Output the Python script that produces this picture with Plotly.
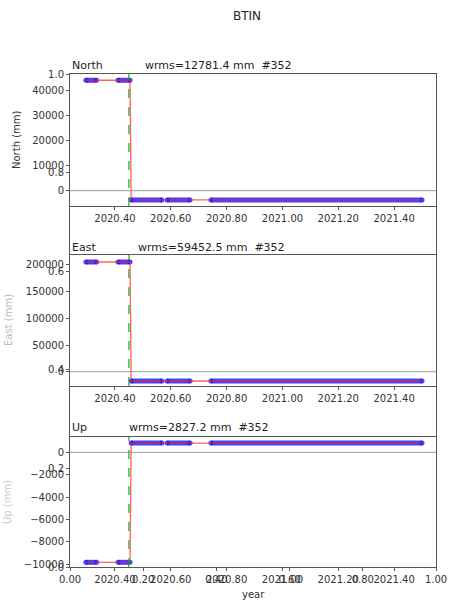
import plotly.graph_objects as go

# ---------------- data ----------------
site = "BTIN"
components = ["North", "East", "Up"]
wrms_mm = [12781.4, 59452.5, 2827.2]
n_obs = 352

# observation segments (decimal year) and their level (mm) per component
seg_start = [2020.296, 2020.411, 2020.458, 2020.587, 2020.744]
seg_end = [2020.334, 2020.454, 2020.568, 2020.669, 2021.500]
north_mm = [44100, 44100, -3700, -3700, -3700]
east_mm = [205600, 205600, -17400, -17400, -17400]
up_mm = [-9840, -9840, 834, 834, 834]
jump_epoch = 2020.450

year_ticks = [2020.40, 2020.60, 2020.80, 2021.00, 2021.20, 2021.40]
year_labels = ["2020.40", "2020.60", "2020.80", "2021.00", "2021.20", "2021.40"]
north_ticks = [0, 10000, 20000, 30000, 40000]
east_ticks = [0, 50000, 100000, 150000, 200000]
up_ticks = [0, -2000, -4000, -6000, -8000, -10000]
frac_ticks = [0.0, 0.2, 0.4, 0.6, 0.8, 1.0]

series = [north_mm, east_mm, up_mm]
y_ticks = [north_ticks, east_ticks, up_ticks]
y_ranges = [[-6100, 46600], [-26800, 218750], [-10260, 1400]]
y_domains = [[0.7323, 1.0], [0.3671, 0.6329], [0.0, 0.2643]]
x_range = [2020.239, 2021.55]

FONT = "DejaVu Sans"
TXT = "#333333"
FRAME = "#555555"

def fmt(v):
    s = f"{v:d}"
    return s.replace("-", "\u2212")

fig = go.Figure()

# background (0..1) axes trace (invisible) so the axes exist
fig.add_trace(go.Scatter(x=[0, 1], y=[0, 1], mode="markers",
                         marker=dict(opacity=0), xaxis="x", yaxis="y",
                         hoverinfo="skip", showlegend=False))

for i, vals in enumerate(series):
    k = i + 2
    bx, by = [], []
    for s, e, v in zip(seg_start, seg_end, vals):
        bx += [s, e, None]
        by += [v, v, None]
    fig.add_trace(go.Scatter(x=bx, y=by, mode="lines+markers",
                             line=dict(color="rgba(20,20,255,0.8)", width=5),
                             marker=dict(color="rgba(20,20,255,0.8)", size=5),
                             xaxis=f"x{k}", yaxis=f"y{k}", showlegend=False))
    rx, ry = [], []
    for s, e, v in zip(seg_start, seg_end, vals):
        rx += [s, e]
        ry += [v, v]
    fig.add_trace(go.Scatter(x=rx, y=ry, mode="lines",
                             line=dict(color="rgba(255,30,30,0.7)", width=1.3),
                             xaxis=f"x{k}", yaxis=f"y{k}", showlegend=False))
    # zero line
    fig.add_shape(type="line", xref=f"x{k} domain", yref=f"y{k}",
                  x0=0, x1=1, y0=0, y1=0,
                  line=dict(color="#999999", width=1))
    # jump marker
    fig.add_shape(type="line", xref=f"x{k}", yref=f"y{k} domain",
                  x0=jump_epoch, x1=jump_epoch, y0=0, y1=1, layer="above",
                  line=dict(color="rgb(30,170,30)", width=1.2, dash="dash"))

tickfont = dict(family=FONT, size=10, color=TXT)
axis_common = dict(showline=True, mirror=True, linecolor=FRAME, linewidth=1,
                   ticks="outside", ticklen=3, tickcolor=FRAME,
                   showgrid=False, zeroline=False, tickfont=tickfont)

layout = dict(
    width=449, height=601,
    margin=dict(l=70, r=13, t=74, b=34, autoexpand=False),
    paper_bgcolor="white", plot_bgcolor="white",
    showlegend=False,
    xaxis=dict(domain=[0, 1], range=[0, 1], anchor="y",
               tickvals=frac_ticks, ticktext=[f"{v:.2f}" for v in frac_ticks],
               **axis_common),
    yaxis=dict(domain=[0, 1], range=[0, 1], anchor="x",
               tickvals=frac_ticks, ticktext=[f"{v:.1f}" for v in frac_ticks],
               **axis_common),
)
for i in range(3):
    k = i + 2
    layout[f"xaxis{k}"] = dict(domain=[0, 1], range=x_range, anchor=f"y{k}",
                               tickvals=year_ticks, ticktext=year_labels,
                               **axis_common)
    layout[f"yaxis{k}"] = dict(domain=y_domains[i], range=y_ranges[i],
                               anchor=f"x{k}", tickvals=y_ticks[i],
                               ticktext=[fmt(v) for v in y_ticks[i]],
                               **axis_common)
fig.update_layout(**layout)

def px_x(p):
    return (p - 70) / 366.0

def px_y(p):
    return (567 - p) / 493.0

ann = []
ann.append(dict(text=site, x=px_x(247), y=px_y(16), xref="paper", yref="paper",
                showarrow=False, xanchor="center", yanchor="middle",
                font=dict(family=FONT, size=12, color="#222222")))
title_y = [66, 247, 427]
wrms_x = [143, 136, 127]
for i, comp in enumerate(components):
    ann.append(dict(text=comp, x=px_x(70), y=px_y(title_y[i]), xref="paper",
                    yref="paper", showarrow=False, xanchor="left",
                    yanchor="middle", font=dict(family=FONT, size=11, color="#222222")))
    ann.append(dict(text=f"wrms={wrms_mm[i]:.1f} mm  #{n_obs}", x=px_x(wrms_x[i]),
                    y=px_y(title_y[i]), xref="paper", yref="paper",
                    showarrow=False, xanchor="left", yanchor="middle",
                    font=dict(family=FONT, size=11, color="#222222")))
ann.append(dict(text="year", x=px_x(253), y=px_y(594), xref="paper", yref="paper",
                showarrow=False, xanchor="center", yanchor="middle",
                font=dict(family=FONT, size=10, color=TXT)))
ann.append(dict(text="North (mm)", x=px_x(16), y=px_y(140), xref="paper",
                yref="paper", showarrow=False, textangle=-90,
                xanchor="center", yanchor="middle",
                font=dict(family=FONT, size=10, color=TXT)))
ann.append(dict(text="East (mm)", x=px_x(8), y=px_y(320), xref="paper",
                yref="paper", showarrow=False, textangle=-90,
                xanchor="center", yanchor="middle",
                font=dict(family=FONT, size=10, color="#bbbbbb")))
ann.append(dict(text="Up (mm)", x=px_x(8), y=px_y(502), xref="paper",
                yref="paper", showarrow=False, textangle=-90,
                xanchor="center", yanchor="middle",
                font=dict(family=FONT, size=10, color="#cccccc")))
fig.update_layout(annotations=ann)

fig.write_html("out.html")
